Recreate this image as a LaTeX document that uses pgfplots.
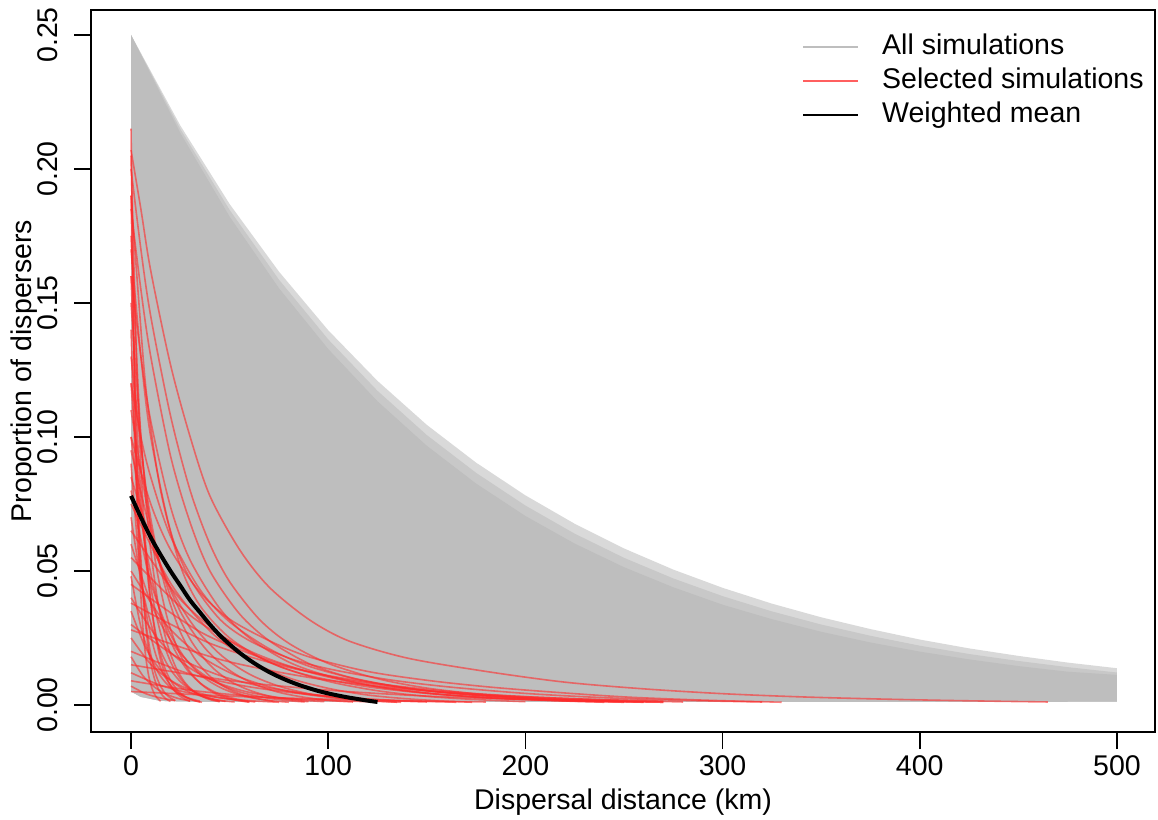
\documentclass[border=0pt]{standalone}
\usepackage{fontspec}
\setmainfont{Liberation Sans}
\usepackage{pgfplots}
\pgfplotsset{compat=1.18}
\definecolor{rgray}{HTML}{BEBEBE}
\definecolor{rgraymid}{HTML}{C8C8C8}
\definecolor{rgraylight}{HTML}{D9D9D9}
\definecolor{rred}{HTML}{FF2A2A}
\newcommand{\lblfont}{\fontsize{14.25}{17}\selectfont}
\begin{document}
\begin{tikzpicture}
\begin{axis}[
  scale only axis, width=532pt, height=361pt,
  xmin=-20.3, xmax=519.3, ymin=-0.0101, ymax=0.2593,
  axis line style={line width=0.75pt},
  tick style={line width=0.75pt, black},
  tick align=outside, major tick length=8.5pt,
  xtick pos=left, ytick pos=left,
  xtick={0,100,200,300,400,500},
  ytick={0,0.05,0.1,0.15,0.2,0.25},
  /pgf/number format/assume math mode=true,
  xticklabel style={font=\lblfont, anchor=north, inner sep=0pt},
  yticklabel style={font=\lblfont, rotate=90, anchor=south, inner sep=0pt,
     /pgf/number format/fixed, /pgf/number format/fixed zerofill, /pgf/number format/precision=2},
  xticklabel shift=3pt,
  yticklabel shift=8pt,
  xlabel={Dispersal distance (km)},
  ylabel={Proportion of dispersers},
  xlabel style={font=\lblfont, at={(axis description cs:0.5,0)}, anchor=north, inner sep=0pt, yshift=-28pt},
  ylabel style={font=\lblfont, at={(axis description cs:-0.0498,0.5)}, anchor=south, inner sep=0pt},
  legend style={draw=none, fill=none, at={(1,1)}, anchor=north east, xshift=-2pt, yshift=-9pt,
     font=\lblfont, row sep=2.5pt, nodes={inner sep=0.5pt, text height=10.5pt, text depth=3pt},
     /tikz/every odd column/.append style={column sep=11pt}},
  legend cell align=left,
  legend image code/.code={\draw[#1] (0pt,0pt) -- (27.5pt,0pt);},
  redline/.style={rred, opacity=0.6, line width=0.8pt, smooth, forget plot},
]
% ---- gray envelope (all simulations) ----
\addplot[fill=rgraylight, draw=none, forget plot] coordinates {
(0,0.25)(25,0.2162)(50,0.1869)(75,0.1617)(100,0.1398)(125,0.1209)(150,0.1045)(175,0.0904)(200,0.0782)(225,0.0676)(250,0.0584)(275,0.0505)(300,0.0437)(325,0.0378)(350,0.0327)(375,0.0283)(400,0.0244)(425,0.0211)(450,0.0183)(475,0.0158)(500,0.0137)
(500,0.0012)(300,0.0011)(100,0.0011)(40,0.0011)(15,0.0015)(5,0.003)(0,0.005)} -- cycle;
\addplot[fill=rgraymid, draw=none, forget plot] coordinates {
(0,0.25)(25,0.2149)(50,0.1847)(75,0.1587)(100,0.1364)(125,0.1172)(150,0.1007)(175,0.0866)(200,0.0744)(225,0.0639)(250,0.0549)(275,0.0472)(300,0.0406)(325,0.0349)(350,0.0300)(375,0.0258)(400,0.0221)(425,0.0190)(450,0.0164)(475,0.0141)(500,0.0121)
(500,0.0012)(300,0.0011)(100,0.0011)(40,0.0011)(15,0.0015)(5,0.003)(0,0.005)} -- cycle;
\addplot[fill=rgray, draw=none, forget plot] coordinates {
(0,0.25)(25,0.2134)(50,0.1822)(75,0.1555)(100,0.1328)(125,0.1133)(150,0.0967)(175,0.0826)(200,0.0705)(225,0.0602)(250,0.0514)(275,0.0439)(300,0.0374)(325,0.0320)(350,0.0273)(375,0.0233)(400,0.0199)(425,0.0170)(450,0.0145)(475,0.0124)(500,0.0112)
(500,0.0012)(300,0.0011)(100,0.0011)(40,0.0011)(15,0.0015)(5,0.003)(0,0.005)} -- cycle;
% ---- selected simulations (red) ----
\addplot[redline] coordinates {(0,0.207)(5,0.185)(10,0.162)(20,0.127)(30,0.1)(40,0.078)(55,0.058)(70,0.044)(90,0.032)(110,0.024)(140,0.0175)(180,0.0125)(220,0.0085)(260,0.006)(300,0.0042)(340,0.003)(380,0.0022)(420,0.0016)(465,0.0011)};
\addplot[redline] coordinates {(0,0.17)(5,0.13)(10,0.1)(20,0.065)(30,0.047)(45,0.032)(60,0.024)(80,0.0175)(100,0.0135)(130,0.0095)(160,0.0068)(200,0.0043)(240,0.0027)(280,0.0017)(320,0.0011)};
\addplot[redline] coordinates {(0,0.19)(4,0.15)(8,0.115)(15,0.08)(25,0.052)(35,0.037)(50,0.025)(70,0.016)(90,0.011)(120,0.0068)(150,0.0043)(180,0.0028)(220,0.0016)(260,0.001)};
\addplot[redline] coordinates {(0,0.2)(5,0.17)(10,0.145)(20,0.108)(30,0.08)(40,0.06)(50,0.046)(65,0.032)(80,0.023)(100,0.0155)(125,0.0098)(150,0.0063)(180,0.0038)(215,0.0022)(250,0.0013)(270,0.001)};
\addplot[redline] coordinates {(0,0.185)(5,0.155)(10,0.13)(20,0.093)(30,0.068)(40,0.05)(55,0.034)(70,0.024)(90,0.0155)(110,0.0105)(135,0.0068)(160,0.0045)(190,0.0029)(230,0.0016)(270,0.001)};
\addplot[redline] coordinates {(0,0.16)(5,0.13)(10,0.106)(20,0.074)(30,0.054)(45,0.036)(60,0.025)(80,0.016)(100,0.0108)(125,0.0068)(150,0.0044)(180,0.0027)(220,0.0015)(250,0.001)};
\addplot[redline] coordinates {(0,0.12)(5,0.1)(10,0.085)(20,0.063)(35,0.043)(50,0.031)(70,0.021)(90,0.0145)(115,0.0095)(140,0.0063)(170,0.0039)(210,0.0022)(260,0.0011)};
\addplot[redline] coordinates {(0,0.1)(10,0.075)(20,0.058)(35,0.042)(50,0.032)(70,0.024)(90,0.018)(120,0.0125)(150,0.0092)(180,0.0068)(210,0.005)(250,0.003)(290,0.0018)(330,0.001)};
\addplot[redline] coordinates {(0,0.215)(1.5,0.1304)(3,0.0791)(4.5,0.048)(6,0.0291)(7.5,0.0177)(9,0.0107)(10.5,0.0065)(12,0.0039)(13.5,0.0024)(15,0.0014)};
\addplot[redline] coordinates {(0,0.205)(3,0.1243)(6,0.0754)(9,0.0457)(12,0.0277)(15,0.0168)(18,0.0102)(21,0.0062)(24,0.0038)(27,0.0023)(30,0.0014)};
\addplot[redline] coordinates {(0,0.19)(2,0.1152)(4,0.0699)(6,0.0424)(8,0.0257)(10,0.0156)(12,0.0095)(14,0.0057)(16,0.0035)(18,0.0021)(20,0.0013)};
\addplot[redline] coordinates {(0,0.175)(4.5,0.1061)(9,0.0644)(13.5,0.039)(18,0.0237)(22.5,0.0144)(27,0.0087)(31.5,0.0053)(36,0.0032)(40.5,0.0019)(45,0.0012)};
\addplot[redline] coordinates {(0,0.16)(3.5,0.097)(7,0.0589)(10.5,0.0357)(14,0.0216)(17.5,0.0131)(21,0.008)(24.5,0.0048)(28,0.0029)(31.5,0.0018)(35,0.0011)};
\addplot[redline] coordinates {(0,0.15)(6,0.091)(12,0.0552)(18,0.0335)(24,0.0203)(30,0.0123)(36,0.0075)(42,0.0045)(48,0.0027)(54,0.0017)(60,0.001)};
\addplot[redline] coordinates {(0,0.14)(2.5,0.0849)(5,0.0515)(7.5,0.0312)(10,0.0189)(12.5,0.0115)(15,0.007)(17.5,0.0042)(20,0.0026)(22.5,0.0016)};
\addplot[redline] coordinates {(0,0.13)(8,0.0788)(16,0.0478)(24,0.029)(32,0.0176)(40,0.0107)(48,0.0065)(56,0.0039)(64,0.0024)(72,0.0014)};
\addplot[redline] coordinates {(0,0.12)(5,0.0728)(10,0.0441)(15,0.0268)(20,0.0162)(25,0.0099)(30,0.006)(35,0.0036)(40,0.0022)(45,0.0013)};
\addplot[redline] coordinates {(0,0.11)(10,0.0667)(20,0.0405)(30,0.0245)(40,0.0149)(50,0.009)(60,0.0055)(70,0.0033)(80,0.002)(90,0.0012)};
\addplot[redline] coordinates {(0,0.1)(7,0.0607)(14,0.0368)(21,0.0223)(28,0.0135)(35,0.0082)(42,0.005)(49,0.003)(56,0.0018)(63,0.0011)};
\addplot[redline] coordinates {(0,0.095)(12.5,0.0576)(25,0.0349)(37.5,0.0212)(50,0.0129)(62.5,0.0078)(75,0.0047)(87.5,0.0029)(100,0.0017)(112.5,0.0011)};
\addplot[redline] coordinates {(0,0.09)(4,0.0546)(8,0.0331)(12,0.0201)(16,0.0122)(20,0.0074)(24,0.0045)(28,0.0027)(32,0.0016)(36,0.001)};
\addplot[redline] coordinates {(0,0.085)(15,0.0516)(30,0.0313)(45,0.019)(60,0.0115)(75,0.007)(90,0.0042)(105,0.0026)(120,0.0016)(135,0.001)};
\addplot[redline] coordinates {(0,0.08)(9,0.0485)(18,0.0294)(27,0.0178)(36,0.0108)(45,0.0066)(54,0.004)(63,0.0024)(72,0.0015)(80,0.001)};
\addplot[redline] coordinates {(0,0.075)(20,0.0455)(40,0.0276)(60,0.0167)(80,0.0101)(100,0.0062)(120,0.0037)(140,0.0023)(160,0.0014)(173,0.001)};
\addplot[redline] coordinates {(0,0.07)(6,0.0425)(12,0.0258)(18,0.0156)(24,0.0095)(30,0.0057)(36,0.0035)(42,0.0021)(48,0.0013)};
\addplot[redline] coordinates {(0,0.065)(25,0.0394)(50,0.0239)(75,0.0145)(100,0.0088)(125,0.0053)(150,0.0032)(175,0.002)(200,0.0012)};
\addplot[redline] coordinates {(0,0.06)(11,0.0364)(22,0.0221)(33,0.0134)(44,0.0081)(55,0.0049)(66,0.003)(77,0.0018)(88,0.0011)};
\addplot[redline] coordinates {(0,0.055)(30,0.0334)(60,0.0202)(90,0.0123)(120,0.0074)(150,0.0045)(180,0.0027)(210,0.0017)(240,0.001)};
\addplot[redline] coordinates {(0,0.05)(17.5,0.0303)(35,0.0184)(52.5,0.0112)(70,0.0068)(87.5,0.0041)(105,0.0025)(122.5,0.0015)(137,0.001)};
\addplot[redline] coordinates {(0,0.048)(5,0.0291)(10,0.0177)(15,0.0107)(20,0.0065)(25,0.0039)(30,0.0024)(35,0.0014)};
\addplot[redline] coordinates {(0,0.045)(35,0.0273)(70,0.0166)(105,0.01)(140,0.0061)(175,0.0037)(210,0.0022)(245,0.0014)};
\addplot[redline] coordinates {(0,0.04)(14,0.0243)(28,0.0147)(42,0.0089)(56,0.0054)(70,0.0033)(84,0.002)(98,0.0012)};
\addplot[redline] coordinates {(0,0.038)(40,0.023)(80,0.014)(120,0.0085)(160,0.0051)(200,0.0031)(240,0.0019)(280,0.0011)};
\addplot[redline] coordinates {(0,0.035)(7.5,0.0212)(15,0.0129)(22.5,0.0078)(30,0.0047)(37.5,0.0029)(45,0.0017)(52.5,0.0011)};
\addplot[redline] coordinates {(0,0.03)(22.5,0.0182)(45,0.011)(67.5,0.0067)(90,0.0041)(112.5,0.0025)(135,0.0015)(150,0.0011)};
\addplot[redline] coordinates {(0,0.028)(45,0.017)(90,0.0103)(135,0.0062)(180,0.0038)(225,0.0023)(270,0.0014)};
\addplot[redline] coordinates {(0,0.025)(10,0.0152)(20,0.0092)(30,0.0056)(40,0.0034)(50,0.0021)(60,0.0012)};
\addplot[redline] coordinates {(0,0.02)(27.5,0.0121)(55,0.0074)(82.5,0.0045)(110,0.0027)(137.5,0.0016)(165,0.001)};
\addplot[redline] coordinates {(0,0.018)(6,0.0109)(12,0.0066)(18,0.004)(24,0.0024)(30,0.0015)};
\addplot[redline] coordinates {(0,0.015)(50,0.0091)(100,0.0055)(150,0.0033)(200,0.002)(250,0.0012)};
\addplot[redline] coordinates {(0,0.012)(15,0.0073)(30,0.0044)(45,0.0027)(60,0.0016)(75,0.001)};
\addplot[redline] coordinates {(0,0.009)(30,0.0055)(60,0.0033)(90,0.002)(120,0.0012)};
\addplot[redline] coordinates {(0,0.007)(7.5,0.0042)(15,0.0026)(22.5,0.0016)};
\addplot[redline] coordinates {(0,0.005)(60,0.003)(120,0.0018)(180,0.0011)};
% ---- weighted mean ----
\addplot[black, line width=2pt, smooth, forget plot] coordinates {
(0,0.078)(5,0.07)(10,0.0625)(15,0.056)(20,0.050)(25,0.0445)(30,0.039)(35,0.0345)(40,0.030)(45,0.026)(50,0.0226)(55,0.0195)(60,0.0168)(65,0.0144)(70,0.0123)(75,0.0105)(80,0.0089)(85,0.0075)(90,0.0063)(95,0.0052)(100,0.0043)(105,0.0035)(110,0.0028)(115,0.0022)(120,0.0016)(125,0.0011)};
% ---- legend ----
\addlegendimage{rgray, line width=1pt}
\addlegendentry{All simulations}
\addlegendimage{rred, opacity=0.75, line width=1pt}
\addlegendentry{Selected simulations}
\addlegendimage{black, line width=1pt}
\addlegendentry{Weighted mean}
\end{axis}
\pgfresetboundingbox
\path[use as bounding box] ([xshift=-45.5pt,yshift=-44pt]current axis.south west) rectangle ([xshift=1.5pt,yshift=5pt]current axis.north east);
\end{tikzpicture}
\end{document}
